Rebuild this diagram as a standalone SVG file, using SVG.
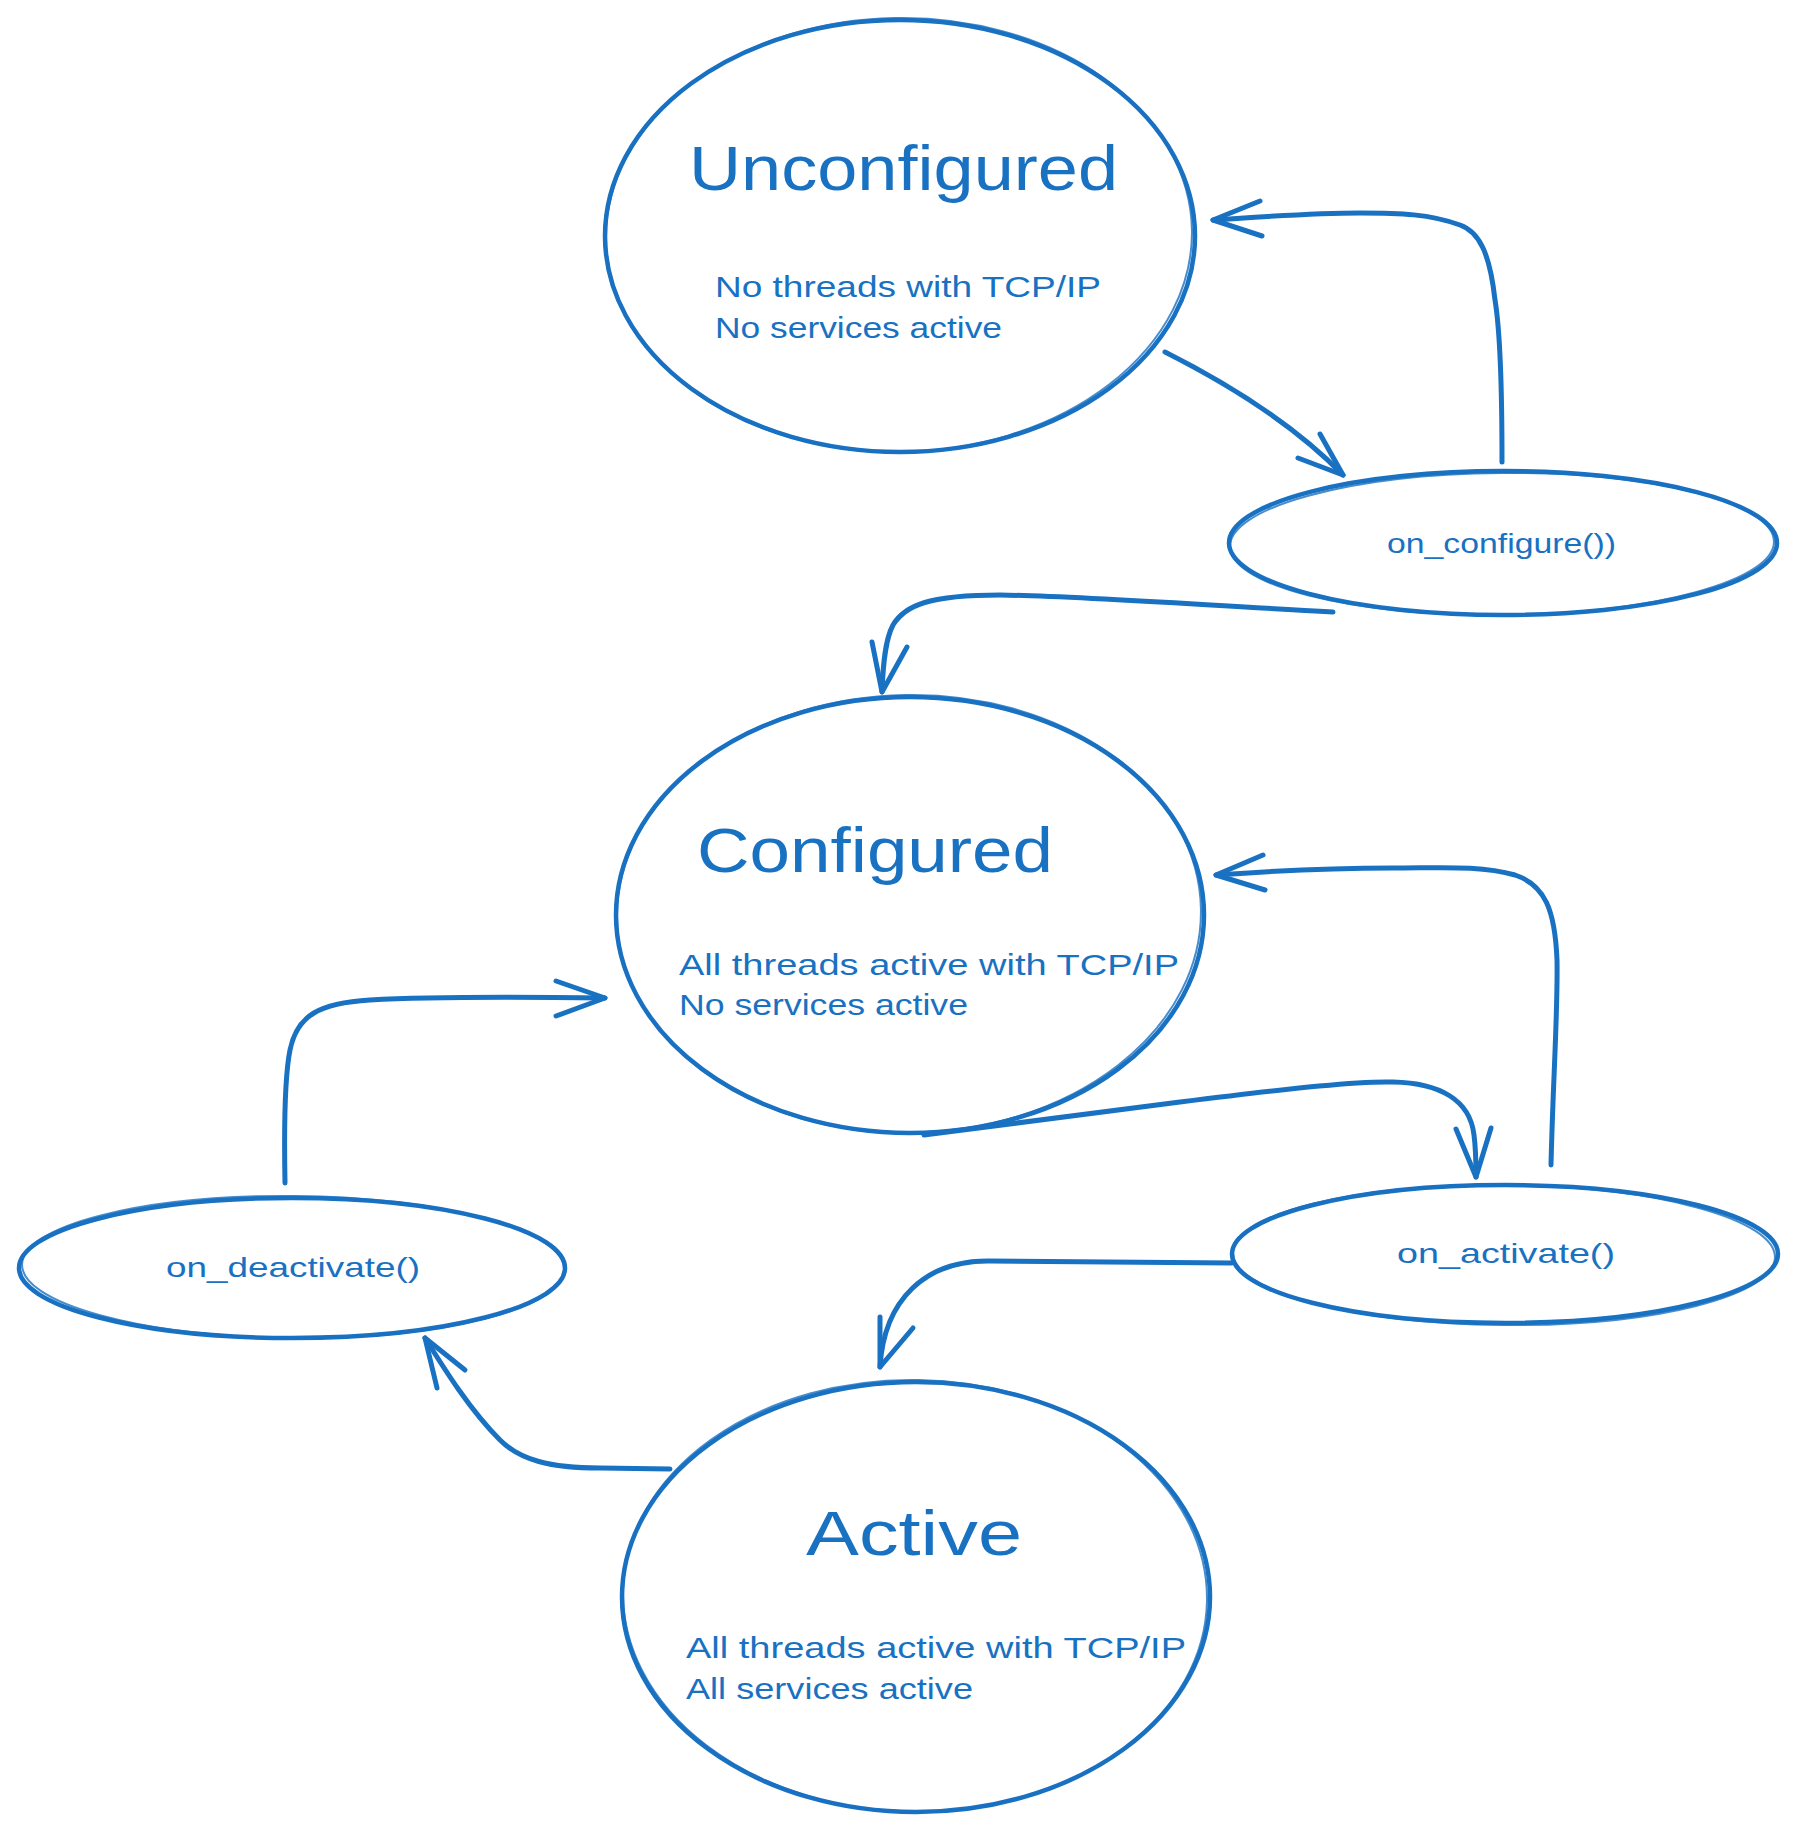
<svg xmlns="http://www.w3.org/2000/svg" width="1799" height="1833" viewBox="0 0 1799 1833">
<style>
.shape{fill:none;stroke:#1971c2;stroke-width:4.5;stroke-linecap:round;stroke-linejoin:round}
.shape2{fill:none;stroke:#1971c2;stroke-width:2;stroke-linecap:round;opacity:0.8}
.conn{fill:none;stroke:#1971c2;stroke-width:5;stroke-linecap:round;stroke-linejoin:round}
.title{font-family:"Liberation Sans",Arial,sans-serif;font-size:63px;fill:#1971c2}
.sub{font-family:"Liberation Sans",Arial,sans-serif;font-size:29px;fill:#1971c2}
.lbl{font-family:"Liberation Sans",Arial,sans-serif;font-size:28px;fill:#1971c2}
</style>
<rect width="1799" height="1833" fill="#ffffff"/>

<g id="connectors">
  <g id="e-unconf-onconf"><path class="conn" d="M1165,352 Q1280,410 1343,475"/><path class="conn" d="M1320,434 L1343,475 L1298,458"/></g>
  <g id="e-onconf-unconf"><path class="conn" d="M1502,462 C1502,400 1500,330 1495,300 C1490,255 1480,232 1460,225 C1430,214 1400,213 1360,213 C1310,213 1260,217 1213,220"/><path class="conn" d="M1260,201 L1213,220 L1262,236"/></g>
  <g id="e-onconf-conf"><path class="conn" d="M1333,612 C1200,605 1080,596 1000,595 C930,595 905,605 893,625 C885,640 883,665 882,692"/><path class="conn" d="M872,642 L882,692 L907,647"/></g>
  <g id="e-conf-onact"><path class="conn" d="M924,1135 L1180,1102 C1300,1087 1360,1081 1393,1082 C1440,1083 1470,1100 1474,1135 C1476,1150 1476,1165 1476,1177"/><path class="conn" d="M1456,1129 L1476,1177 L1491,1128"/></g>
  <g id="e-onact-conf"><path class="conn" d="M1551,1165 C1553,1080 1558,1010 1557,960 C1555,910 1545,885 1515,875 C1480,865 1440,868 1393,868 C1330,868 1270,871 1216,875"/><path class="conn" d="M1263,855 L1216,875 L1265,890"/></g>
  <g id="e-onact-active"><path class="conn" d="M1232,1263 L990,1261 C925,1260 884,1300 880,1367"/><path class="conn" d="M880,1317 L880,1367 L913,1328"/></g>
  <g id="e-active-ondeact"><path class="conn" d="M670,1469 L600,1468 C550,1468 520,1460 500,1440 C470,1410 445,1370 425,1338"/><path class="conn" d="M437,1388 L425,1338 L465,1370"/></g>
  <g id="e-ondeact-conf"><path class="conn" d="M285,1183 C284,1130 284,1080 290,1050 C297,1015 320,1003 370,1000 C440,996 530,997 605,998"/><path class="conn" d="M556,981 L605,998 L556,1016"/></g>
</g>

<g id="unconfigured">
  <ellipse class="shape" cx="900" cy="236" rx="295" ry="216"/>
  <ellipse class="shape2" cx="899" cy="235" rx="293" ry="217" transform="rotate(-1 900 236)"/>
  <text class="title" x="689" y="190" textLength="429" lengthAdjust="spacingAndGlyphs">Unconfigured</text>
  <text class="sub" x="715" y="297" textLength="386" lengthAdjust="spacingAndGlyphs">No threads with TCP/IP</text>
  <text class="sub" x="715" y="338" textLength="287" lengthAdjust="spacingAndGlyphs">No services active</text>
</g>

<g id="on_configure">
  <ellipse class="shape" cx="1503" cy="543" rx="274" ry="72"/>
  <ellipse class="shape2" cx="1502" cy="544" rx="272" ry="71" transform="rotate(-0.5 1503 543)"/>
  <text class="lbl" x="1387" y="553" textLength="229" lengthAdjust="spacingAndGlyphs">on_configure())</text>
</g>

<g id="configured">
  <ellipse class="shape" cx="910" cy="915" rx="294" ry="218"/>
  <ellipse class="shape2" cx="909" cy="914" rx="292" ry="219" transform="rotate(-1 910 915)"/>
  <text class="title" x="697" y="872" textLength="356" lengthAdjust="spacingAndGlyphs">Configured</text>
  <text class="sub" x="679" y="975" textLength="500" lengthAdjust="spacingAndGlyphs">All threads active with TCP/IP</text>
  <text class="sub" x="679" y="1015" textLength="289" lengthAdjust="spacingAndGlyphs">No services active</text>
</g>

<g id="on_deactivate">
  <ellipse class="shape" cx="292" cy="1268" rx="273" ry="70"/>
  <ellipse class="shape2" cx="293" cy="1267" rx="271" ry="71" transform="rotate(0.5 292 1268)"/>
  <text class="lbl" x="166" y="1277" textLength="254" lengthAdjust="spacingAndGlyphs">on_deactivate()</text>
</g>

<g id="on_activate">
  <ellipse class="shape" cx="1505" cy="1254" rx="273" ry="69"/>
  <ellipse class="shape2" cx="1504" cy="1255" rx="271" ry="70" transform="rotate(0.5 1505 1254)"/>
  <text class="lbl" x="1397" y="1263" textLength="218" lengthAdjust="spacingAndGlyphs">on_activate()</text>
</g>

<g id="active">
  <ellipse class="shape" cx="916" cy="1597" rx="294" ry="215"/>
  <ellipse class="shape2" cx="915" cy="1596" rx="292" ry="216" transform="rotate(1 916 1597)"/>
  <text class="title" x="806" y="1555" textLength="216" lengthAdjust="spacingAndGlyphs">Active</text>
  <text class="sub" x="686" y="1658" textLength="500" lengthAdjust="spacingAndGlyphs">All threads active with TCP/IP</text>
  <text class="sub" x="686" y="1699" textLength="287" lengthAdjust="spacingAndGlyphs">All services active</text>
</g>
</svg>
